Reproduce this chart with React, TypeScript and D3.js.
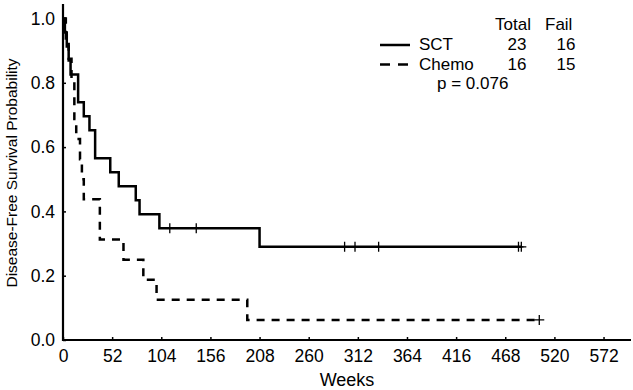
import React, { useEffect, useRef } from "react";
import * as d3 from "d3";

// tick labels
const xTicks = [0, 52, 104, 156, 208, 260, 312, 364, 416, 468, 520, 572];
const yTicks = [0, 0.2, 0.4, 0.6, 0.8, 1.0];

// weeks to failure / censoring
const sctEventWeeks = [2, 4, 6, 8, 16, 16, 22, 28, 34, 34, 50, 59, 77, 81, 102, 208];
const sctCensorWeeks = [113, 141, 298, 309, 334, 482, 485];
const chemoEventWeeks = [3, 6, 9, 12, 12, 14, 18, 20, 22, 39, 39, 64, 85, 99, 195];
const chemoCensorWeeks = [504];

// legend table
const legendNames = ["SCT", "Chemo"];
const legendTotals = [23, 16];
const legendFails = [16, 15];
const pText = "p = 0.076";

const FONT = "'Liberation Sans', Arial, Helvetica, sans-serif";

function kaplanMeier(events: number[], censors: number[]) {
  const times = Array.from(new Set([...events, ...censors])).sort((a, b) => a - b);
  let atRisk = events.length + censors.length;
  let s = 1;
  const steps = [{ t: 0, s: 1 }];
  const marks: { t: number; s: number }[] = [];
  times.forEach((t) => {
    const d = events.filter((e) => e === t).length;
    const c = censors.filter((e) => e === t).length;
    if (d > 0) {
      s = (s * (atRisk - d)) / atRisk;
      steps.push({ t, s });
    }
    if (c > 0) marks.push({ t, s });
    atRisk -= d + c;
  });
  steps.push({ t: times[times.length - 1], s });
  return { steps, marks };
}

const App = () => {
  const svgRef = useRef<SVGSVGElement>(null);

  useEffect(() => {
    if (!svgRef.current) return;
    const svg = d3.select(svgRef.current);
    svg.selectAll("*").remove();

    const x = d3.scaleLinear().domain([0, 600]).range([63, 630]);
    const y = d3.scaleLinear().domain([0, 1]).range([340, 18.5]);

    // axes (ticks inward, labels outside)
    const gx = svg
      .append("g")
      .attr("transform", `translate(0,${y(0)})`)
      .call(
        d3
          .axisBottom(x)
          .tickValues(xTicks)
          .tickSizeInner(-3)
          .tickSizeOuter(0)
          .tickPadding(10)
          .tickFormat(d3.format("d"))
      );
    const gy = svg
      .append("g")
      .attr("transform", `translate(${x(0)},0)`)
      .call(
        d3
          .axisLeft(y)
          .tickValues(yTicks)
          .tickSizeInner(-3)
          .tickSizeOuter(0)
          .tickPadding(8)
          .tickFormat(d3.format(".1f"))
      );
    [gx, gy].forEach((g) => {
      g.select(".domain").remove();
      g.selectAll("line").attr("stroke", "#000").attr("stroke-width", 1.5);
      g.selectAll("text")
        .attr("fill", "#000")
        .style("font-family", FONT)
        .style("font-size", "17.5px");
    });

    svg
      .append("line")
      .attr("x1", x(0)).attr("x2", x(0))
      .attr("y1", 4).attr("y2", y(0) + 1)
      .attr("stroke", "#000").attr("stroke-width", 2.2);
    svg
      .append("line")
      .attr("x1", x(0) - 1).attr("x2", 631)
      .attr("y1", y(0)).attr("y2", y(0))
      .attr("stroke", "#000").attr("stroke-width", 2.2);

    // axis titles
    svg
      .append("text")
      .attr("x", (x(0) + 631) / 2)
      .attr("y", 386)
      .attr("text-anchor", "middle")
      .style("font-family", FONT)
      .style("font-size", "18px")
      .text("Weeks");
    svg
      .append("text")
      .attr("transform", `translate(17,${173}) rotate(-90)`)
      .attr("text-anchor", "middle")
      .style("font-family", FONT)
      .style("font-size", "15.5px")
      .text("Disease-Free Survival Probability");

    // survival curves
    const line = d3
      .line<{ t: number; s: number }>()
      .x((d) => x(d.t))
      .y((d) => y(d.s))
      .curve(d3.curveStepAfter);

    const curves = [
      { km: kaplanMeier(sctEventWeeks, sctCensorWeeks), dash: null },
      { km: kaplanMeier(chemoEventWeeks, chemoCensorWeeks), dash: "8,7" },
    ];

    curves.forEach((c) => {
      svg
        .append("path")
        .attr("d", line(c.km.steps))
        .attr("fill", "none")
        .attr("stroke", "#000")
        .attr("stroke-width", 2.5)
        .attr("stroke-dasharray", c.dash);
      c.km.marks.forEach((m) => {
        svg
          .append("path")
          .attr(
            "d",
            `M${x(m.t) - 5},${y(m.s)}H${x(m.t) + 5}M${x(m.t)},${y(m.s) - 5}V${y(m.s) + 5}`
          )
          .attr("stroke", "#000")
          .attr("stroke-width", 1.3);
      });
    });

    // legend
    const lg = svg.append("g").style("font-family", FONT).style("font-size", "17px");
    lg.append("text").attr("x", 495).attr("y", 30).text("Total");
    lg.append("text").attr("x", 545).attr("y", 30).text("Fail");
    legendNames.forEach((name, i) => {
      const ly = 50 + i * 19.5;
      lg.append("line")
        .attr("x1", 380).attr("x2", 410)
        .attr("y1", ly - 5).attr("y2", ly - 5)
        .attr("stroke", "#000")
        .attr("stroke-width", 2.5)
        .attr("stroke-dasharray", i === 1 ? "10,8" : null);
      lg.append("text").attr("x", 419).attr("y", ly).text(name);
      lg.append("text").attr("x", 517).attr("y", ly).attr("text-anchor", "middle").text(legendTotals[i]);
      lg.append("text").attr("x", 566).attr("y", ly).attr("text-anchor", "middle").text(legendFails[i]);
    });
    lg.append("text").attr("x", 437).attr("y", 89).text(pText);
  }, []);

  return (
    <svg
      ref={svgRef}
      width={633}
      height={390}
      style={{ position: "absolute", left: 0, top: 0, background: "#fff" }}
    ></svg>
  );
};

export default App;
